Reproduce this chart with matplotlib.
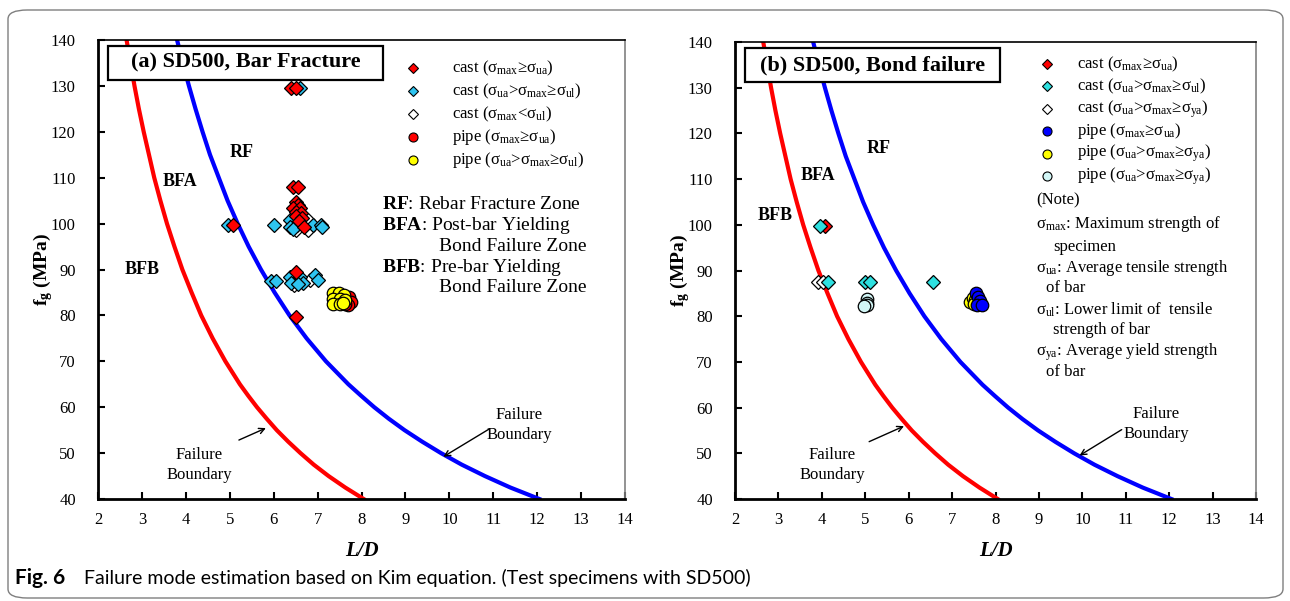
import matplotlib
matplotlib.use("Agg")
import matplotlib.pyplot as plt
from matplotlib.patches import FancyBboxPatch, Rectangle

plt.rcParams["font.family"] = ["Liberation Serif", "DejaVu Serif"]
plt.rcParams["mathtext.fontset"] = "custom"
plt.rcParams["mathtext.rm"] = "Liberation Serif"
plt.rcParams["mathtext.it"] = "Liberation Serif:italic"
plt.rcParams["mathtext.bf"] = "Liberation Serif:bold"

# failure boundary curves
bound_fg = [140, 135, 130, 125, 120, 115, 110, 105, 100, 95, 90, 85, 80, 75, 70, 65,
            62.5, 60, 57.5, 55, 52.5, 50, 47.5, 45, 42.5, 40]
red_ld = [2.65, 2.74, 2.83, 2.93, 3.04, 3.16, 3.28, 3.42, 3.57, 3.74, 3.92, 4.13, 4.35,
          4.61, 4.90, 5.23, 5.42, 5.62, 5.84, 6.07, 6.33, 6.61, 6.91, 7.25, 7.63, 8.05]
blue_ld = [3.80, 3.93, 4.07, 4.22, 4.38, 4.55, 4.75, 4.95, 5.18, 5.43, 5.71, 6.02, 6.36,
           6.75, 7.19, 7.70, 7.99, 8.29, 8.62, 8.98, 9.38, 9.81, 10.28, 10.81, 11.39, 12.05]

# (a) bar fracture specimens
a_cast_red_x = [6.4, 6.5, 6.45, 6.55, 6.5, 6.55, 6.45, 6.6, 6.5, 6.62, 6.5, 6.65, 6.58, 6.7, 5.07, 6.5, 6.5]
a_cast_red_y = [129.5, 129.5, 108, 108, 104.8, 104, 103.3, 103.3, 102.5, 102.3, 101.6, 101.2, 100.5, 99.3, 99.7, 89.5, 79.7]
a_cast_cyan_x = [6.6, 4.95, 6.0, 6.38, 6.54, 6.9, 7.07, 6.38, 7.1, 6.45, 5.93, 6.05, 6.36, 6.61, 6.95, 7.0, 6.4, 6.66, 6.55]
a_cast_cyan_y = [129.5, 99.7, 99.7, 100.8, 99.7, 99.7, 99.7, 99.3, 99.3, 98.8, 87.5, 87.5, 88.4, 88.4, 88.8, 87.7, 87.1, 87.1, 86.8]
a_cast_white_x = [6.77, 6.5, 6.77, 6.47, 6.82]
a_cast_white_y = [100.8, 98.6, 98.6, 86.6, 87.7]
a_pipe_red_x = [7.72, 7.75, 7.7, 7.62]
a_pipe_red_y = [84.0, 83.0, 82.3, 82.5]
a_pipe_yellow_x = [7.35, 7.48, 7.6, 7.35, 7.5, 7.62, 7.35, 7.5, 7.58]
a_pipe_yellow_y = [84.8, 84.8, 84.4, 83.6, 83.5, 83.4, 82.5, 82.4, 82.8]

# (b) bond failure specimens
b_cast_red_x = [4.07]
b_cast_red_y = [99.7]
b_cast_cyan_x = [3.95, 4.15, 5.0, 5.1, 6.55]
b_cast_cyan_y = [99.7, 87.5, 87.5, 87.5, 87.5]
b_cast_white_x = [3.9, 4.02]
b_cast_white_y = [87.5, 87.5]
b_pipe_blue_x = [7.55, 7.6, 7.65, 7.58, 7.68]
b_pipe_blue_y = [85.0, 84.2, 83.3, 82.4, 82.4]
b_pipe_yellow_x = [7.42, 7.47, 7.52, 7.5]
b_pipe_yellow_y = [83.2, 84.0, 83.5, 82.6]
b_pipe_lcyan_x = [5.05, 5.05, 5.05, 4.97]
b_pipe_lcyan_y = [83.8, 83.0, 82.4, 82.2]

RED = "#ff0000"
BLUE = "#0000ff"
CYAN_A = "#2ec4f0"
CYAN_B = "#2ee0e0"
YELLOW = "#ffff00"
LCYAN = "#d2f6f6"

fig = plt.figure(figsize=(12.9, 6.01), dpi=100)
ax1 = fig.add_axes([0.0760, 0.1697, 0.4085, 0.7637])
ax2 = fig.add_axes([0.5698, 0.1697, 0.4039, 0.7604])


def style_axes(ax):
    ax.set_xlim(2, 14)
    ax.set_ylim(40, 140)
    ax.set_xticks(range(2, 15))
    ax.set_yticks(range(40, 141, 10))
    ax.tick_params(direction="in", length=5, width=1.5, labelsize=12, colors="black")
    ax.tick_params(axis="x", pad=9)
    ax.tick_params(axis="y", pad=16)
    for s in ["left", "bottom"]:
        ax.spines[s].set_linewidth(2)
    ax.spines["top"].set_linewidth(1.2)
    ax.spines["right"].set_linewidth(1.2)
    ax.spines["right"].set_color("#808080")
    ax.set_xlabel("L/D", fontsize=15, fontweight="bold", style="italic", labelpad=10)
    ax.set_ylabel(r"$\mathbf{f_g}$ (MPa)", fontsize=14, fontweight="bold", labelpad=-3)
    ax.plot(red_ld, bound_fg, color=RED, lw=3, zorder=2, solid_joinstyle="round")
    ax.plot(blue_ld, bound_fg, color=BLUE, lw=3, zorder=2, solid_joinstyle="round")


def pts(ax, x, y, marker, color, ms):
    ax.plot(x, y, ls="none", marker=marker, ms=ms, mfc=color, mec="black", mew=0.9, zorder=3)


def legend_row(ax, xm, xt, y, marker, color, ms, label):
    ax.plot([xm], [y], ls="none", marker=marker, ms=ms, mfc=color, mec="black", mew=0.8,
            transform=ax.transAxes, clip_on=False)
    ax.text(xt, y, label, transform=ax.transAxes, fontsize=12, va="center", ha="left")


def annotate_boundary(ax, txt_xy, tip, start):
    ax.text(txt_xy[0], txt_xy[1], "Failure\nBoundary", fontsize=12, ha="center", va="center",
            linespacing=1.3)
    ax.annotate("", xy=tip, xytext=start,
                arrowprops=dict(arrowstyle="->", color="black", lw=1))


def title_box(ax, x0, y0, x1, y1, text):
    ax.add_patch(Rectangle((x0, y0), x1 - x0, y1 - y0, transform=ax.transAxes,
                           fc="white", ec="black", lw=1.6, zorder=4))
    ax.text((x0 + x1) / 2, (y0 + y1) / 2, text, transform=ax.transAxes, fontsize=16,
            fontweight="bold", ha="center", va="center", zorder=5)


lab_max_ua = r"($\mathrm{\sigma_{max}}$≥$\mathrm{\sigma_{ua}}$)"
lab_ua_max_ul = r"($\mathrm{\sigma_{ua}}$>$\mathrm{\sigma_{max}}$≥$\mathrm{\sigma_{ul}}$)"
lab_max_ul = r"($\mathrm{\sigma_{max}}$<$\mathrm{\sigma_{ul}}$)"
lab_ua_max_ya = r"($\mathrm{\sigma_{ua}}$>$\mathrm{\sigma_{max}}$≥$\mathrm{\sigma_{ya}}$)"

# ---- panel (a)
style_axes(ax1)
pts(ax1, a_pipe_red_x, a_pipe_red_y, "o", RED, 9)
pts(ax1, a_pipe_yellow_x, a_pipe_yellow_y, "o", YELLOW, 9)
pts(ax1, a_cast_white_x, a_cast_white_y, "D", "white", 7.5)
pts(ax1, a_cast_cyan_x, a_cast_cyan_y, "D", CYAN_A, 7.5)
pts(ax1, a_cast_red_x, a_cast_red_y, "D", RED, 7.5)

title_box(ax1, 0.019, 0.913, 0.541, 0.987, "(a) SD500, Bar Fracture")
ax1.text(5.26, 115.6, "RF", fontsize=13, fontweight="bold", ha="center", va="center")
ax1.text(3.87, 109.1, "BFA", fontsize=13, fontweight="bold", ha="center", va="center")
ax1.text(3.0, 89.9, "BFB", fontsize=13, fontweight="bold", ha="center", va="center")
annotate_boundary(ax1, (4.30, 47.4), (5.88, 55.7), (5.15, 52.6))
annotate_boundary(ax1, (11.59, 56.1), (9.81, 48.9), (10.95, 55.5))

rows_a = [("D", RED, 5, "cast " + lab_max_ua),
          ("D", CYAN_A, 5, "cast " + lab_ua_max_ul),
          ("D", "white", 5, "cast " + lab_max_ul),
          ("o", RED, 6.5, "pipe " + lab_max_ua),
          ("o", YELLOW, 6.5, "pipe " + lab_ua_max_ul)]
for i, (m, c, ms, lab) in enumerate(rows_a):
    legend_row(ax1, 0.598, 0.672, 0.939 - i * 0.050, m, c, ms, lab)

notes_a = [(0.539, 0.641, r"$\mathbf{RF}$: Rebar Fracture Zone"),
           (0.539, 0.595, r"$\mathbf{BFA}$: Post-bar Yielding"),
           (0.647, 0.551, "Bond Failure Zone"),
           (0.539, 0.505, r"$\mathbf{BFB}$: Pre-bar Yielding"),
           (0.647, 0.460, "Bond Failure Zone")]
for x, y, t in notes_a:
    ax1.text(x, y, t, transform=ax1.transAxes, fontsize=14, va="center", ha="left")

# ---- panel (b)
style_axes(ax2)
pts(ax2, b_pipe_lcyan_x, b_pipe_lcyan_y, "o", LCYAN, 9)
pts(ax2, b_pipe_yellow_x, b_pipe_yellow_y, "o", YELLOW, 9)
pts(ax2, b_pipe_blue_x, b_pipe_blue_y, "o", BLUE, 9)
pts(ax2, b_cast_white_x, b_cast_white_y, "D", "white", 7.5)
pts(ax2, b_cast_red_x, b_cast_red_y, "D", RED, 7.5)
pts(ax2, b_cast_cyan_x, b_cast_cyan_y, "D", CYAN_B, 7.5)

title_box(ax2, 0.019, 0.912, 0.509, 0.987, "(b) SD500, Bond failure")
ax2.text(5.30, 116.8, "RF", fontsize=13, fontweight="bold", ha="center", va="center")
ax2.text(3.92, 110.7, "BFA", fontsize=13, fontweight="bold", ha="center", va="center")
ax2.text(2.92, 102.1, "BFB", fontsize=13, fontweight="bold", ha="center", va="center")
annotate_boundary(ax2, (4.24, 47.4), (5.95, 56.2), (5.03, 52.3))
annotate_boundary(ax2, (11.70, 56.4), (9.88, 49.2), (10.96, 55.5))

rows_b = [("D", RED, 5, "cast " + lab_max_ua),
          ("D", CYAN_B, 5, "cast " + lab_ua_max_ul),
          ("D", "white", 5, "cast " + lab_ua_max_ya),
          ("o", BLUE, 6.5, "pipe " + lab_max_ua),
          ("o", YELLOW, 6.5, "pipe " + lab_ua_max_ya),
          ("o", LCYAN, 6.5, "pipe " + lab_ua_max_ya)]
for i, (m, c, ms, lab) in enumerate(rows_b):
    legend_row(ax2, 0.598, 0.656, 0.952 - i * 0.049, m, c, ms, lab)

notes_b = [(0.578, 0.654, "(Note)"),
           (0.578, 0.602, r"$\mathrm{\sigma_{max}}$: Maximum strength of"),
           (0.610, 0.551, "specimen"),
           (0.578, 0.505, r"$\mathrm{\sigma_{ua}}$: Average tensile strength"),
           (0.597, 0.462, "of bar"),
           (0.578, 0.414, r"$\mathrm{\sigma_{ul}}$: Lower limit of  tensile"),
           (0.610, 0.370, "strength of bar"),
           (0.578, 0.322, r"$\mathrm{\sigma_{ya}}$: Average yield strength"),
           (0.597, 0.278, "of bar")]
for x, y, t in notes_b:
    ax2.text(x, y, t, transform=ax2.transAxes, fontsize=12, va="center", ha="left")

# ---- frame and caption
frame = FancyBboxPatch((8 / 1290, 1 - 598 / 601), (1283 - 8) / 1290, (598 - 10) / 601,
                       boxstyle="round,pad=0,rounding_size=0.015", transform=fig.transFigure,
                       fc="none", ec="#7f7f7f", lw=1.0)
fig.patches.append(frame)
fig.text(15 / 1290, 1 - 578 / 601, "Fig. 6", fontsize=15, fontweight="bold",
         family=["Lato", "DejaVu Sans"], va="center", ha="left")
fig.text(84 / 1290, 1 - 578 / 601, "Failure mode estimation based on Kim equation. (Test specimens with SD500)",
         fontsize=14, family=["Lato", "DejaVu Sans"], va="center", ha="left")

fig.savefig("out.png", dpi=100)
